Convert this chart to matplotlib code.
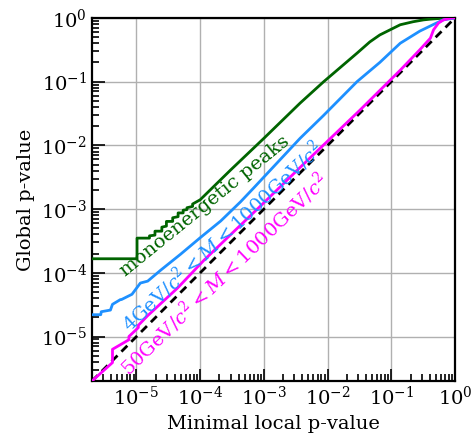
import matplotlib

matplotlib.use("Agg")

import matplotlib.pyplot as plt
from matplotlib.ticker import NullFormatter

plt.rcParams["font.family"] = ["DejaVu Serif"]
plt.rcParams["mathtext.fontset"] = "dejavuserif"

# minimal local p-value -> global p-value
GREEN_X = [2.0e-6, 1.02e-5, 1.02e-5, 1.6e-5, 1.6e-5, 1.95e-5, 1.95e-5,
           2.5e-5, 2.5e-5, 2.95e-5, 2.95e-5, 3.7e-5, 3.7e-5, 4.5e-5, 4.5e-5,
           5.4e-5, 5.4e-5, 6.2e-5, 6.2e-5, 7.6e-5, 7.6e-5, 1.0e-4, 3.0e-4,
           1.0e-3, 3.7e-3, 8.7e-3, 2.9e-2, 4.6e-2, 6.6e-2, 1.38e-1, 2.2e-1,
           3.2e-1, 4.1e-1, 5.8e-1, 1.0]
GREEN_Y = [1.66e-4, 1.66e-4, 3.5e-4, 3.5e-4, 3.8e-4, 3.9e-4, 4.5e-4,
           4.5e-4, 5.2e-4, 5.4e-4, 6.4e-4, 6.4e-4, 7.3e-4, 7.6e-4, 8.7e-4,
           8.7e-4, 9.6e-4, 9.8e-4, 1.05e-3, 1.1e-3, 1.2e-3, 1.4e-3, 4.1e-3,
           1.29e-2, 4.6e-2, 0.1, 0.28, 0.42, 0.54, 0.78, 0.87, 0.93, 0.955,
           0.98, 1.0]

BLUE_X = [2.0e-6, 2.75e-6, 2.8e-6, 3.9e-6, 4.2e-6, 5.6e-6, 5.8e-6, 8.5e-6,
          1.15e-5, 1.5e-5, 2.4e-5, 4.9e-5, 1.0e-4, 2.1e-4, 4.3e-4, 6.9e-4,
          3.7e-3, 8.5e-3, 2.9e-2, 6.6e-2, 1.38e-1, 2.8e-1, 5.1e-1, 6.5e-1,
          1.0]
BLUE_Y = [2.2e-5, 2.2e-5, 2.45e-5, 2.6e-5, 3.2e-5, 3.8e-5, 3.8e-5, 4.6e-5,
          6.9e-5, 7.4e-5, 1.1e-4, 1.95e-4, 3.55e-4, 6.5e-4, 1.3e-3,
          2.14e-3, 1.29e-2, 2.9e-2, 0.1, 0.2, 0.4, 0.62, 0.83, 0.93, 1.0]

MAGENTA_X = [2.0e-6, 4.2e-6, 4.2e-6, 7.6e-6, 7.6e-6, 1.07e-5, 1.07e-5,
             1.48e-5, 4.4e-5, 1.15e-4, 8.7e-4, 3.7e-3, 3.2e-2, 1.38e-1,
             2.8e-1, 4.1e-1, 4.6e-1, 5.5e-1, 6.6e-1, 8.9e-1, 1.0]
MAGENTA_Y = [2.0e-6, 3.9e-6, 6.3e-6, 8.9e-6, 1.0e-5, 1.38e-5, 1.5e-5,
             2.1e-5, 5.75e-5, 1.58e-4, 1.1e-3, 4.5e-3, 3.55e-2, 0.151,
             0.316, 0.48, 0.65, 0.83, 0.93, 1.0, 1.0]

DIAG = [2.0e-6, 1.0]
DECADES = [1e-5, 1e-4, 1e-3, 1e-2, 1e-1, 1.0]

GREEN = "#006400"
BLUE = "#1E90FF"
MAGENTA = "#FF00FF"

fig = plt.figure(figsize=(4.74, 4.36), dpi=100)
ax = fig.add_axes([0.194, 0.126, 0.766, 0.833])

ax.plot(DIAG, DIAG, color="black", lw=2, ls=(0, (3, 2)), zorder=2)
ax.plot(GREEN_X, GREEN_Y, color=GREEN, lw=2, zorder=3)
ax.plot(BLUE_X, BLUE_Y, color=BLUE, lw=2, zorder=3)
ax.plot(MAGENTA_X, MAGENTA_Y, color=MAGENTA, lw=2, zorder=3)

ax.set_xscale("log")
ax.set_yscale("log")
ax.set_xticks(DECADES)
ax.set_yticks(DECADES)
ax.xaxis.set_minor_formatter(NullFormatter())
ax.yaxis.set_minor_formatter(NullFormatter())
ax.set_xlim(2.0e-6, 1.0)
ax.set_ylim(2.0e-6, 1.0)

# curve labels sit along the lines, between the curves
ax.text(10 ** -3.92, 10 ** -2.96, "monoenergetic peaks", color=GREEN,
        fontsize=14, rotation=39, ha="center", va="center",
        rotation_mode="anchor")
ax.text(10 ** -3.66, 10 ** -3.42, r"$4\mathrm{GeV}/c^2 < M < 1000\mathrm{GeV}/c^2$",
        color=BLUE, fontsize=14, rotation=43, ha="center", va="center",
        rotation_mode="anchor")
ax.text(10 ** -3.62, 10 ** -4.02, r"$50\mathrm{GeV}/c^2 < M < 1000\mathrm{GeV}/c^2$",
        color=MAGENTA, fontsize=14, rotation=44, ha="center", va="center",
        rotation_mode="anchor")

ax.grid(True, which="major", color="#b0b0b0", lw=1)
ax.set_axisbelow(True)
ax.tick_params(which="both", direction="in", top=False, right=False,
               labelsize=14, width=1.2)
ax.tick_params(which="major", length=9)
ax.tick_params(which="minor", length=5)
for spine in ax.spines.values():
    spine.set_linewidth(1.6)

ax.set_xlabel("Minimal local p-value", fontsize=14)
ax.set_ylabel("Global p-value", fontsize=14)

fig.savefig("out.png", dpi=100)
